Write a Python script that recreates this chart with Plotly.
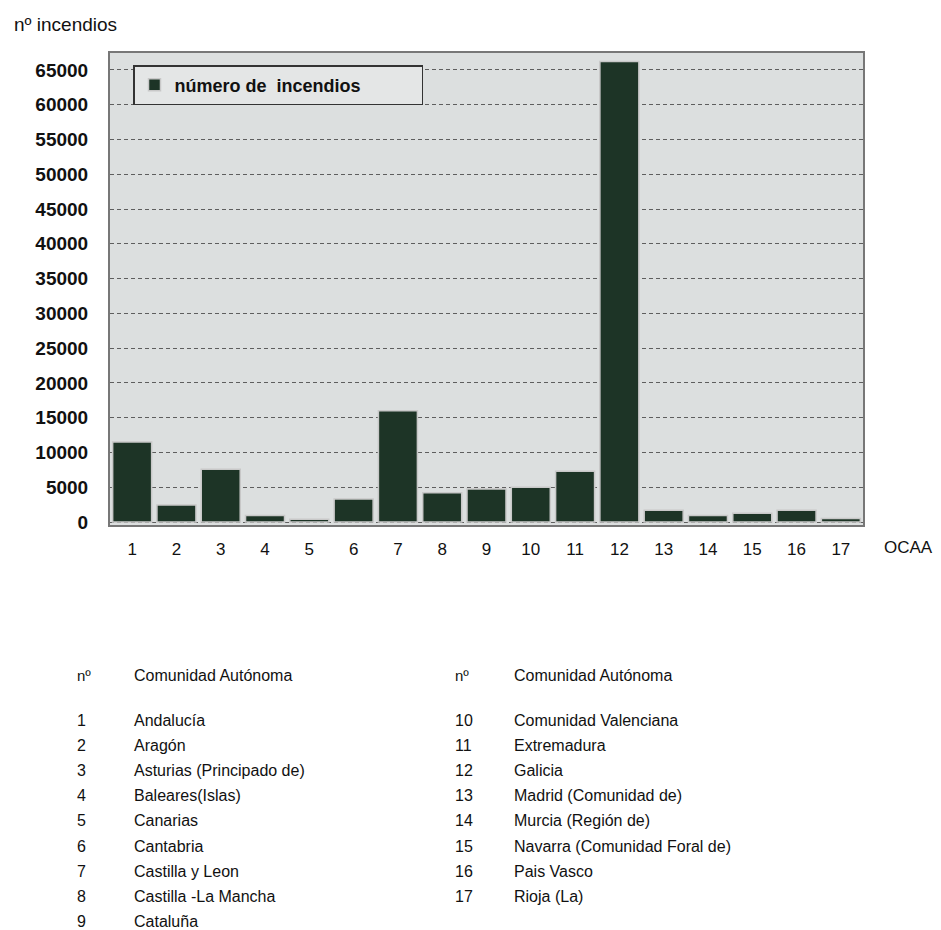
import plotly.graph_objects as go

# Fire counts per autonomous community (CCAA), numbered 1-17
ccaa_num = list(range(1, 18))
ccaa_names = [
    "Andalucía", "Aragón", "Asturias (Principado de)", "Baleares(Islas)",
    "Canarias", "Cantabria", "Castilla y Leon", "Castilla -La Mancha",
    "Cataluña", "Comunidad Valenciana", "Extremadura", "Galicia",
    "Madrid (Comunidad de)", "Murcia (Región de)",
    "Navarra (Comunidad Foral de)", "Pais Vasco", "Rioja (La)",
]
incendios = [11500, 2450, 7600, 950, 400, 3300, 16000, 4200, 4750,
             5000, 7300, 66200, 1700, 950, 1250, 1700, 500]
y_ticks = list(range(0, 65001, 5000))

FONT = "Liberation Sans, Arial, sans-serif"
W, H = 941, 930
L, R, T, B = 110, 863, 53, 525  # plot area in pixels


def px_x(x):
    return (x - L) / (R - L)


def px_y(y):
    return (B - y) / (B - T)


fig = go.Figure()
fig.add_trace(go.Bar(
    x=ccaa_num, y=incendios, name="número de  incendios",
    width=0.88,
    marker=dict(color="#1d3426", line=dict(color="#c8c8c8", width=1.5)),
))

annotations = [
    dict(text="nº incendios", x=px_x(12), y=px_y(25), xanchor="left",
         yanchor="middle", font=dict(size=19, color="#111")),
    dict(text="OCAA", x=px_x(908), y=px_y(547), xanchor="center",
         yanchor="middle", font=dict(size=17, color="#111")),
]

# Key table below the chart: two columns of number / community name
col_specs = [(75, 132, 0, 9), (453, 512, 9, 17)]
for nx, tx, i0, i1 in col_specs:
    annotations.append(dict(text="nº", x=px_x(nx), y=px_y(675),
                            xanchor="left", yanchor="middle",
                            font=dict(size=15, color="#111")))
    annotations.append(dict(text="Comunidad Autónoma", x=px_x(tx), y=px_y(675),
                            xanchor="left", yanchor="middle",
                            font=dict(size=16, color="#111")))
    for row, i in enumerate(range(i0, i1)):
        yy = px_y(720 + 25.2 * row)
        annotations.append(dict(text=str(ccaa_num[i]), x=px_x(nx), y=yy,
                                xanchor="left", yanchor="middle",
                                font=dict(size=16, color="#111")))
        annotations.append(dict(text=ccaa_names[i], x=px_x(tx), y=yy,
                                xanchor="left", yanchor="middle",
                                font=dict(size=16, color="#111")))

for a in annotations:
    a.update(xref="paper", yref="paper", showarrow=False)

fig.update_layout(
    width=W, height=H,
    margin=dict(l=L, r=W - R, t=T, b=H - B, pad=0),
    paper_bgcolor="white",
    plot_bgcolor="#dcdfdf",
    font=dict(family=FONT, color="#111"),
    showlegend=True,
    legend=dict(
        orientation="h",
        x=px_x(133), y=px_y(65), xanchor="left", yanchor="top",
        bgcolor="#e4e6e6", bordercolor="#333", borderwidth=1.5,
        font=dict(size=18, color="#111", weight="bold"),
        entrywidth=242, entrywidthmode="pixels",
        itemwidth=30,
    ),
    annotations=annotations,
    xaxis=dict(
        range=[0.5, 17.5], tickmode="array", tickvals=ccaa_num,
        ticktext=[str(n) for n in ccaa_num],
        showgrid=False, zeroline=False, ticks="",
        showline=True, linecolor="#777", linewidth=2, mirror=True,
        tickfont=dict(size=17, color="#111"), ticklabelstandoff=8,
    ),
    yaxis=dict(
        range=[-430, 67440], tickmode="array", tickvals=y_ticks,
        ticktext=[str(v) for v in y_ticks],
        showgrid=True, gridcolor="#5e5e5e", gridwidth=1, griddash="4px,3px",
        zeroline=False, ticks="",
        showline=True, linecolor="#777", linewidth=2, mirror=True,
        tickfont=dict(size=19, color="#111", weight="bold"),
        ticklabelstandoff=16,
    ),
)

fig.write_html("out.html")
